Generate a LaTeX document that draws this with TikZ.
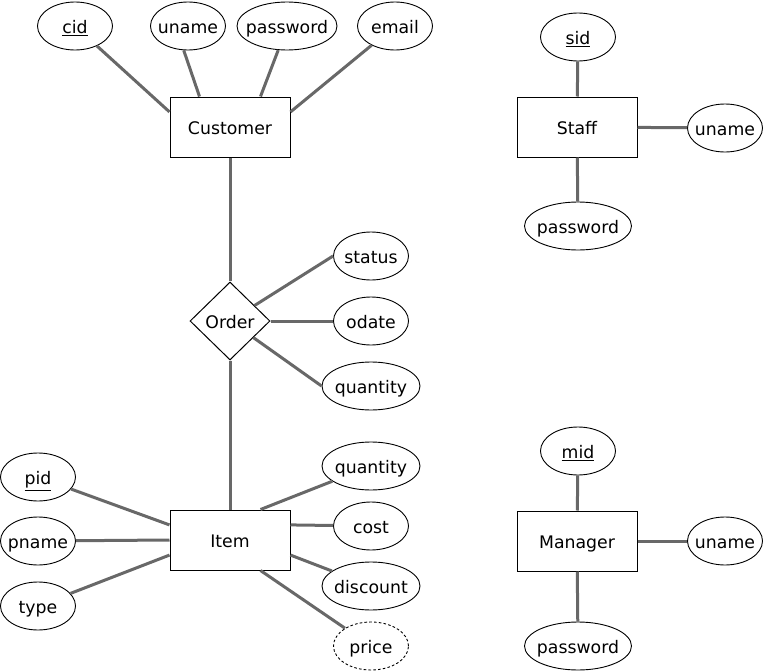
\documentclass[tikz,border=0pt]{standalone}
\usepackage{mathtools}
\usepackage{fontspec}
\setmainfont{DejaVu Sans}
\usepackage{tikz}
\usetikzlibrary{shapes.geometric}
\usepackage{xcolor}
\definecolor{linkcol}{RGB}{104,104,104}
\tikzset{
  % entity box
  entity/.style={rectangle, draw=black, line width=1pt, fill=white, minimum width=120, minimum height=60,
                 inner sep=0pt, text height=15, text depth=0},
  % attribute ellipse (width given)
  attr/.style={ellipse, draw=black, line width=0.9pt, fill=white, minimum width=#1, minimum height=48,
               inner sep=0pt, text height=14, text depth=0},
  attr/.default={75},
  % derived attribute
  dattr/.style={attr=#1, dash pattern=on 2.6pt off 2.2pt},
  dattr/.default={75},
  % relationship diamond
  rel/.style={diamond, aspect=1, draw=black, line width=1pt, fill=white, minimum width=80, minimum height=78,
              inner sep=0pt, text height=14, text depth=0},
  % connecting line
  link/.style={draw=linkcol, line width=3pt},
}

\begin{document}
\begin{tikzpicture}[x=1pt, y=-1pt, font=\fontsize{17.3}{20}\selectfont]
  \useasboundingbox (0,0) rectangle (764,672);

  % ── Customer ──
  \node[entity] (cust) at (230,127) {Customer};
  \node[attr] (cid) at (75,26) {\clap{\underline{cid}}};
  \node[attr] (cuname) at (188,26) {\clap{uname}};
  \node[attr=100] (cpw) at (287,26) {\clap{password}};
  \node[attr] (cemail) at (395,26) {\clap{email}};

  % ── Order ──
  \node[rel] (ord) at (230,321) {Order};
  \node[attr] (ostatus) at (371,256) {\clap{status}};
  \node[attr] (odate) at (371,321) {\clap{odate}};
  \node[attr=98] (oqty) at (371,386) {\clap{quantity}};

  % ── Item ──
  \node[entity] (item) at (230,540) {Item};
  \node[attr] (pid) at (38,477) {\clap{\underline{pid}}};
  \node[attr] (pname) at (38,541) {\clap{pname}};
  \node[attr] (ptype) at (38,606) {\clap{type}};
  \node[attr=98] (iqty) at (371,466) {\clap{quantity}};
  \node[attr] (icost) at (371,526) {\clap{cost}};
  \node[attr=98] (idisc) at (371,586) {\clap{discount}};
  \node[dattr] (iprice) at (371,646) {\clap{price}};

  % ── Staff ──
  \node[entity] (staff) at (577,127) {Staff};
  \node[attr] (sid) at (578,37) {\clap{\underline{sid}}};
  \node[attr] (suname) at (725,128) {\clap{uname}};
  \node[attr=107] (spw) at (578,226) {\clap{password}};

  % ── Manager ──
  \node[entity] (mgr) at (577,541) {Manager};
  \node[attr] (mid) at (578,451) {\clap{\underline{mid}}};
  \node[attr] (muname) at (725,541) {\clap{uname}};
  \node[attr=107] (mpw) at (578,646) {\clap{password}};

  % links
  \draw[link] (cid) -- (cust.166);
  \draw[link] (cuname.260) -- (cust.135);
  \draw[link] (cpw.250) -- (cust.45);
  \draw[link] (cemail) -- (cust.14);
  \draw[link] (cust) -- (ord);
  \draw[link] (ord) -- (ostatus.west);
  \draw[link] (ord) -- (odate);
  \draw[link] (ord) -- (oqty.west);
  \draw[link] (ord) -- (item);
  \draw[link] (pid) -- (item.166);
  \draw[link] (pname) -- (item.west);
  \draw[link] (ptype) -- (item.194);
  \draw[link] (iqty) -- (item.45);
  \draw[link] (icost) -- (item.14);
  \draw[link] (idisc) -- (item.-14);
  \draw[link] (iprice) -- (item.-45);
  \draw[link] (sid) -- (staff);
  \draw[link] (staff) -- (suname);
  \draw[link] (staff) -- (spw);
  \draw[link] (mid) -- (mgr);
  \draw[link] (mgr) -- (muname);
  \draw[link] (mgr) -- (mpw);

\end{tikzpicture}
\end{document}
